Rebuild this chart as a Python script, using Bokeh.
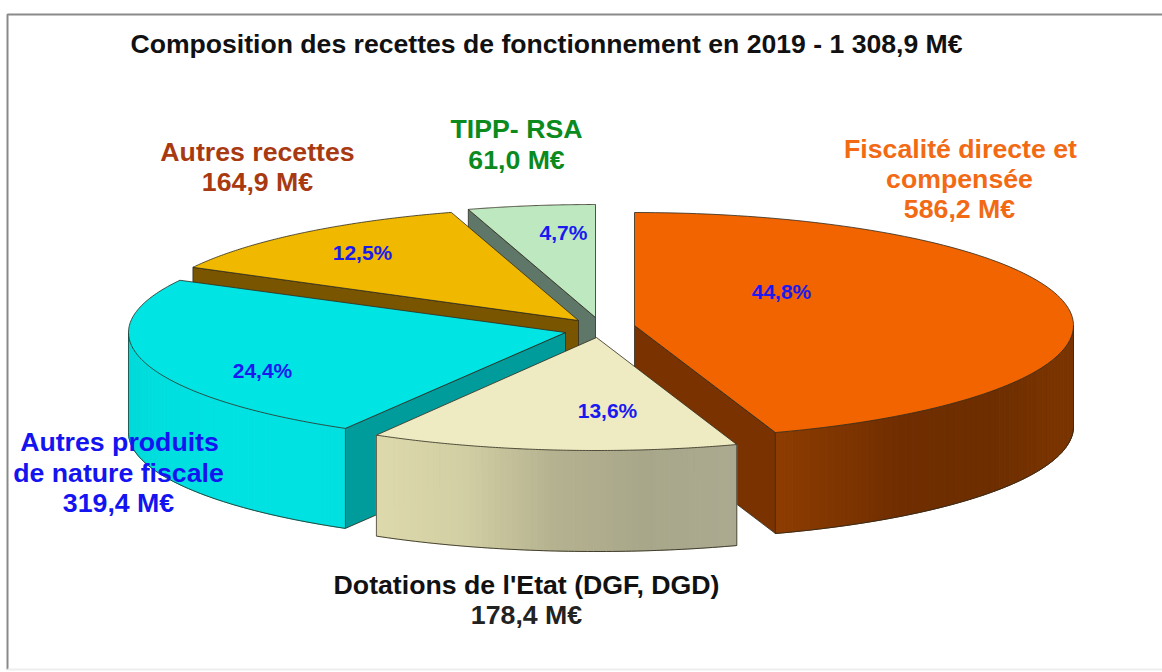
import numpy as np
from bokeh.plotting import figure
from bokeh.models import Range1d
from bokeh.core.properties import value
from bokeh.embed import file_html
from bokeh.resources import INLINE

# ---- data -------------------------------------------------------------
title = "Composition des recettes de fonctionnement en 2019 - 1 308,9 M€"
slice_names = ["Fiscalité directe et compensée", "Dotations de l'Etat (DGF, DGD)",
               "Autres produits de nature fiscale", "Autres recettes", "TIPP- RSA"]
amounts = [586.2, 178.4, 319.4, 164.9, 61.0]
percents = [44.8, 13.6, 24.4, 12.5, 4.7]
percent_labels = ["44,8%", "13,6%", "24,4%", "12,5%", "4,7%"]

# ---- style / layout ---------------------------------------------------
tips = [(634, 325), (596, 337), (565, 332), (578, 320), (595, 317)]
rx = [439, 437, 437, 437, 437]
ry = [113, 113, 111, 113, 113]
depth = [101, 101, 100, 100, 100]
top_colors = ["#F26400", "#EEEBC2", "#00E4E4", "#F0B900", "#BDE8C0"]
cut_colors = ["#7A3300", "#B0AE8A", "#009C9C", "#7A5500", "#5F7768"]
wall_stops = [["#7A3400", "#7A3400", "#6E2E00", "#702E00", "#8C3C00"],
              ["#ABAA90", "#A8A78A", "#B5B290", "#D2CFA4", "#DDD9AC"],
              ["#00E0E0", "#00E2E2", "#00E0E0", "#00DCDC", "#00D8D8"],
              ["#7A5500"], ["#5F7768"]]
draw_order = [4, 3, 2, 0, 1]
pct_pos = [(781, 291), (607, 410), (262, 370), (362, 252), (563, 232)]
label_rows = [
    ("Fiscalité directe et", 960, 148, "#F26A14"), ("compensée", 959, 178, "#F26A14"),
    ("586,2 M€", 959, 208, "#F26A14"),
    ("Dotations de l'Etat (DGF, DGD)", 526, 584, "#111111"), ("178,4 M€", 526, 614, "#222222"),
    ("Autres produits", 119, 441, "#1414F0"), ("de nature fiscale", 118, 472, "#1414F0"),
    ("319,4 M€", 118, 502, "#1414F0"),
    ("Autres recettes", 257, 151, "#A83A12"), ("164,9 M€", 257, 181, "#A83A12"),
    ("TIPP- RSA", 516, 128, "#0B8A1E"), ("61,0 M€", 516, 159, "#0B8A1E"),
]
FONT = value("Liberation Sans")

p = figure(width=1162, height=672, x_range=Range1d(0, 1162), y_range=Range1d(672, 0),
           output_backend="svg", toolbar_location=None, min_border=0,
           background_fill_color="#FFFFFF", border_fill_color="#FFFFFF", outline_line_color=None)
p.axis.visible = False
p.grid.visible = False

# frame
p.line([7, 7, 1162], [669, 14, 14], line_color="#8A8A8A", line_width=2)
p.line([7, 1162], [669, 669], line_color="#EEEEEE", line_width=2)

def pt(i, theta, dz=0.0):
    return (tips[i][0] + rx[i] * np.sin(theta), tips[i][1] - ry[i] * np.cos(theta) + dz)

def lerp_hex(stops, t):
    arr = np.array([[int(s[k:k + 2], 16) for k in (1, 3, 5)] for s in stops], float)
    pos = np.linspace(0, 1, len(stops))
    return "#%02X%02X%02X" % tuple(int(round(np.interp(t, pos, arr[:, c]))) for c in range(3))

edges = np.radians(np.concatenate([[0], np.cumsum(percents) * 3.6]))
OUT = "#2E2A1E"

for i in draw_order:
    a0, a1 = edges[i], edges[i + 1]
    d = depth[i]
    tx, ty = tips[i]
    # radial cut walls
    for ang, vis in ((a0, np.sin(a0) < -1e-6), (a1, np.sin(a1) > 1e-6)):
        if vis:
            ex, ey = pt(i, ang)
            p.patch([tx, ex, ex, tx], [ty, ey, ey + d, ty + d], fill_color=cut_colors[i],
                    line_color=OUT, line_width=1, line_alpha=0.8)
    # outer curved wall, visible on the front half only
    f0, f1 = max(a0, np.pi / 2), min(a1, 3 * np.pi / 2)
    if f1 > f0:
        th = np.linspace(f0, f1, 60)
        xs, ys, cs = [], [], []
        for k in range(len(th) - 1):
            xa, ya = pt(i, th[k]); xb, yb = pt(i, th[k + 1])
            xs.append([xa, xb, xb, xa]); ys.append([ya, yb, yb + d, ya + d])
            cs.append(lerp_hex(wall_stops[i], k / (len(th) - 2)))
        p.patches(xs, ys, fill_color=cs, line_color=cs, line_width=1)
        bx, by = zip(*[pt(i, t, d) for t in th])
        p.line(list(bx), list(by), line_color=OUT, line_width=1, line_alpha=0.85)
        for t in (f0, f1):
            ex, ey = pt(i, t)
            p.line([ex, ex], [ey, ey + d], line_color=OUT, line_width=1, line_alpha=0.7)
    # top face
    th = np.linspace(a0, a1, 120)
    ax, ay = zip(*[pt(i, t) for t in th])
    p.patch([tx] + list(ax), [ty] + list(ay), fill_color=top_colors[i],
            line_color=OUT, line_width=1, line_alpha=0.8)

# percentage labels
p.text([q[0] for q in pct_pos], [q[1] for q in pct_pos], text=percent_labels,
       text_font=FONT, text_font_style="bold", text_font_size="21px",
       text_color="#1A1AF0", text_align="center", text_baseline="middle")

# value / category labels
for txt, x, y, col in label_rows:
    p.text([x], [y], text=[txt], text_font=FONT, text_font_style="bold",
           text_font_size="26.7px", text_color=col, text_align="center", text_baseline="middle")

p.text([546], [43.5], text=[title], text_font=FONT, text_font_style="bold",
       text_font_size="26.6px", text_color="#111111", text_align="center", text_baseline="middle")

open("out.html", "w").write(file_html(p, INLINE))
